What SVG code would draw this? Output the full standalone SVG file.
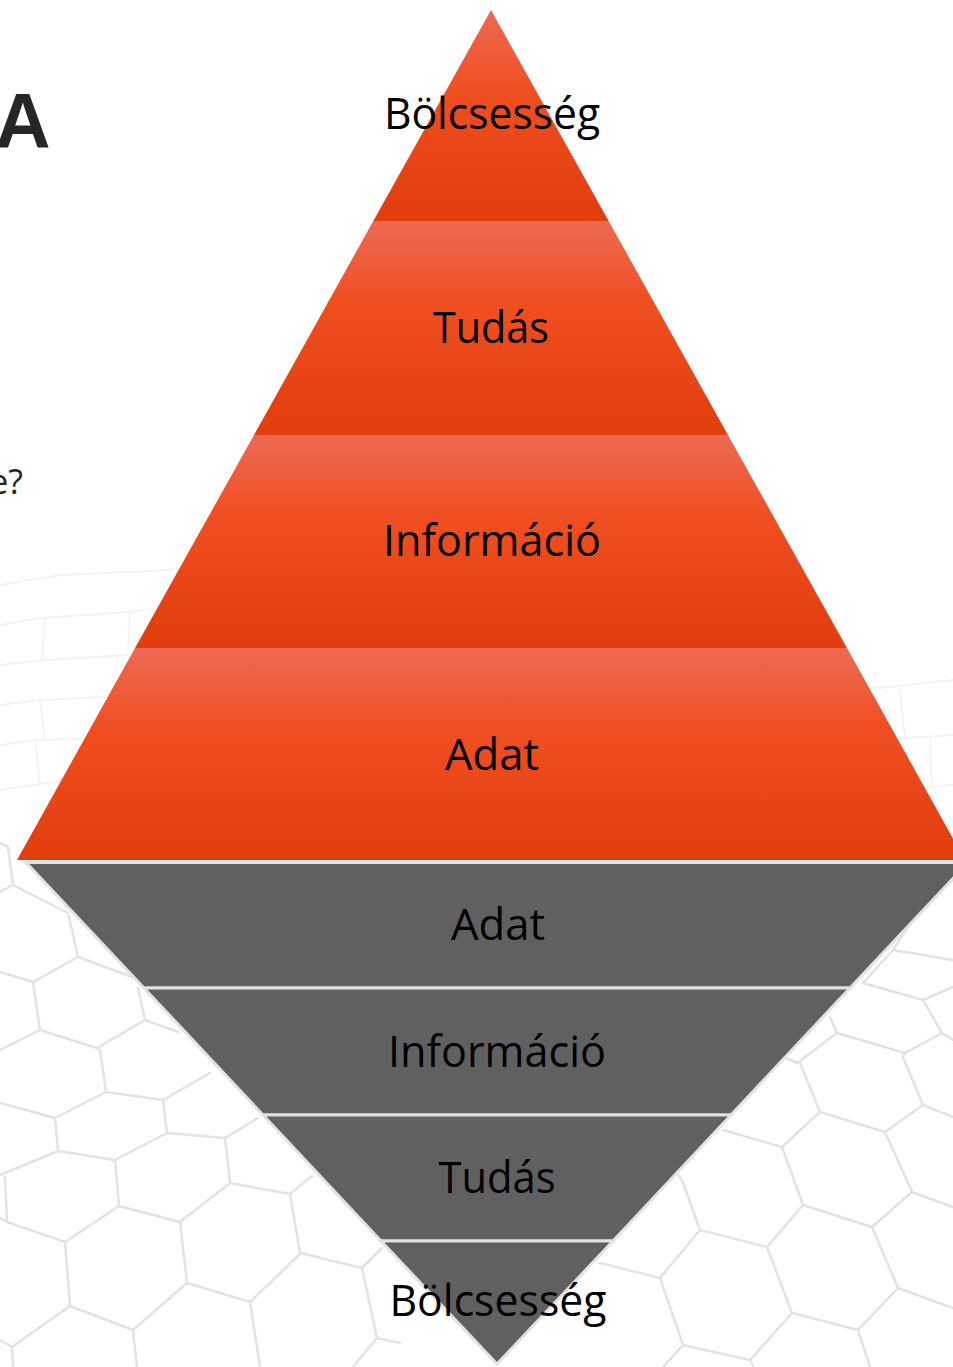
<svg xmlns="http://www.w3.org/2000/svg" width="953" height="1367" viewBox="0 0 953 1367">
<defs>
<linearGradient id="og" x1="0" y1="0" x2="0" y2="1">
<stop offset="0" stop-color="#EC6A53"/>
<stop offset="0.38" stop-color="#F04F21"/>
<stop offset="1" stop-color="#E13D0D"/>
</linearGradient>
<style>
.hex{fill:none;stroke:#e3e3e3;stroke-width:2.5;stroke-linejoin:round;stroke-linecap:round}
.hexf{fill:none;stroke:#f4f4f4;stroke-width:2;stroke-linecap:round}
.o{fill:url(#og)}
.g{fill:#606060;stroke:#e2e2e2;stroke-width:3}
.lbl{font-family:"Open Sans","Noto Sans",sans-serif;font-size:44px;fill:#000;text-anchor:middle}
.side{font-family:"Liberation Sans",Arial,sans-serif;fill:#262626}
</style>
</defs>
<rect width="953" height="1367" fill="#ffffff"/>
<g id="background">
<g class="hexf">
<path d="M0,585 L60,575 L130,572 L200,568"/>
<path d="M0,625 L40,618 L130,612 L170,606"/>
<path d="M0,665 L45,660 L130,655 L150,650"/>
<path d="M0,705 L40,700 L125,696"/>
<path d="M0,745 L35,740 L100,738"/>
<path d="M0,790 L40,784 L80,780"/>
<path d="M45,618 L42,660 M130,612 L128,655 M40,700 L45,740 M125,696 L100,738 M40,784 L35,740"/>
<path d="M860,690 L953,680 M880,740 L953,735 M900,790 L953,785 M900,690 L905,740 M930,740 L932,785"/>
</g>
<g class="hex">
<path d="M0,843 L8,847 L13,885 L0,892"/>
<path d="M13,885 L68,913 L78,957 L33,982 L0,972"/>
<path d="M78,957 L132,977"/>
<path d="M33,982 L40,1030 L0,1050"/>
<path d="M40,1030 L97,1048 L145,1020 L138,988"/>
<path d="M145,1020 L178,1032"/>
<path d="M97,1048 L100,1050 L106,1092 L163,1100 L210,1073"/>
<path d="M163,1100 L167,1133 L225,1138 L258,1118"/>
<path d="M0,1103 L55,1118 L106,1092"/>
<path d="M55,1118 L58,1151 L115,1160 L167,1133"/>
<path d="M225,1138 L230,1183 L290,1194 L312,1176"/>
<path d="M0,1175 L58,1151"/>
<path d="M0,1218 L7,1222 L5,1177"/>
<path d="M115,1160 L119,1206 L180,1222 L230,1183"/>
<path d="M290,1194 L300,1253 L362,1268 L382,1248"/>
<path d="M7,1222 L65,1242 L119,1206"/>
<path d="M65,1242 L70,1306 L133,1330 L187,1283 L180,1222"/>
<path d="M187,1283 L250,1302 L300,1254"/>
<path d="M362,1268 L377,1338 L400,1343"/>
<path d="M70,1306 L12,1347 L13,1367 M0,1340 L12,1347"/>
<path d="M133,1330 L137,1367 M250,1302 L260,1367 M377,1338 L353,1367"/>
<path d="M785,1058 L800,1063 L820,1112 L885,1132 L923,1105 L953,1117"/>
<path d="M903,1057 L923,1105"/>
<path d="M820,1112 L782,1147 L723,1130"/>
<path d="M782,1147 L803,1205 L872,1227 L912,1192 L885,1132"/>
<path d="M912,1192 L953,1207"/>
<path d="M803,1205 L767,1247 L700,1230 L682,1180 L678,1175"/>
<path d="M700,1230 L660,1278 L600,1263"/>
<path d="M767,1247 L792,1313 L858,1330 L898,1288 L872,1227"/>
<path d="M898,1288 L953,1308"/>
<path d="M792,1313 L750,1360 L683,1345 L660,1278"/>
<path d="M683,1345 L663,1367 M858,1330 L870,1367 M750,1360 L754,1367"/>
<path d="M953,880 L925,900 L893,950 L953,960"/>
<path d="M893,950 L863,983"/>
<path d="M863,983 L923,1000 L953,987"/>
<path d="M923,1000 L942,1033 L953,1040"/>
<path d="M942,1033 L905,1053 L837,1033 L830,1017"/>
<path d="M905,1053 L903,1057"/>
<path d="M837,1033 L797,1063 L785,1058"/>
</g>
</g>
<g id="side-text">
<text class="side" x="-5" y="148" font-size="77" font-weight="bold">A</text>
<text class="side" x="23" y="494" font-size="34" text-anchor="end" style="font-family:'Open Sans','Noto Sans',sans-serif">e?</text>
</g>
<g id="connectors"></g>
<g id="pyramid">
<g id="p-bolcsesseg">
<polygon class="o" points="491,10 608.7,221 373.3,221"/>
<text class="lbl" x="492" y="129" textLength="216" lengthAdjust="spacingAndGlyphs">Bölcsesség</text>
</g>
<g id="p-tudas">
<polygon class="o" points="373.3,221 608.7,221 728,435 254,435"/>
<text class="lbl" x="491" y="343" textLength="116" lengthAdjust="spacingAndGlyphs">Tudás</text>
</g>
<g id="p-informacio">
<polygon class="o" points="254,435 728,435 847,648 135,648"/>
<text class="lbl" x="492" y="556" textLength="218" lengthAdjust="spacingAndGlyphs">Információ</text>
</g>
<g id="p-adat">
<polygon class="o" points="135,648 847,648 965,860 17,860"/>
<text class="lbl" x="492" y="770" textLength="94" lengthAdjust="spacingAndGlyphs">Adat</text>
</g>
</g>
<g id="funnel">
<g id="f-adat">
<polygon class="g" points="26,862.5 968,862.5 850,988 144,988"/>
<text class="lbl" x="498" y="940" textLength="94" lengthAdjust="spacingAndGlyphs">Adat</text>
</g>
<g id="f-informacio">
<polygon class="g" points="144,988 850,988 731,1115 263,1115"/>
<text class="lbl" x="497" y="1067" textLength="218" lengthAdjust="spacingAndGlyphs">Információ</text>
</g>
<g id="f-tudas">
<polygon class="g" points="263,1115 731,1115 613,1241 381,1241"/>
<text class="lbl" x="497" y="1193" textLength="117" lengthAdjust="spacingAndGlyphs">Tudás</text>
</g>
<g id="f-bolcsesseg">
<polygon class="g" points="381,1241 613,1241 497,1364"/>
<text class="lbl" x="498" y="1316" textLength="217" lengthAdjust="spacingAndGlyphs">Bölcsesség</text>
</g>
</g>
</svg>
